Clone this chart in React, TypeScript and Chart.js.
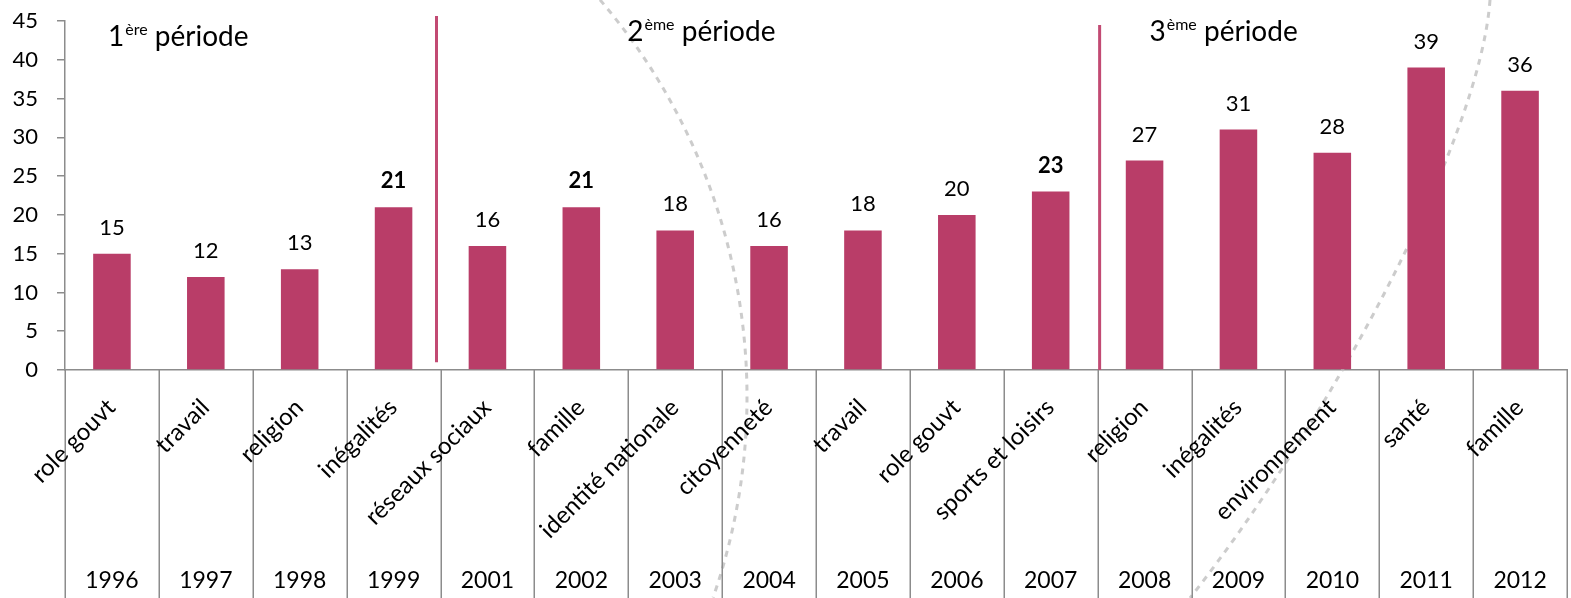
import { useEffect, useRef } from "react";
import { Chart, registerables } from "chart.js";

Chart.register(...registerables);

// ---- data ----
const years = ["1996", "1997", "1998", "1999", "2001", "2002", "2003", "2004", "2005", "2006", "2007", "2008", "2009", "2010", "2011", "2012"];
const topics = ["role gouvt", "travail", "religion", "inégalités", "réseaux sociaux", "famille", "identité nationale", "citoyenneté", "travail", "role gouvt", "sports et loisirs", "religion", "inégalités", "environnement", "santé", "famille"];
const values = [15, 12, 13, 21, 16, 21, 18, 16, 18, 20, 23, 27, 31, 28, 39, 36];
const boldIndexes = [3, 5, 10];
const yTickValues = [0, 5, 10, 15, 20, 25, 30, 35, 40, 45];
const periodNumbers = ["1", "2", "3"];
const periodSuffixes = ["ère", "ème", "ème"];
const periodWord = " période";
const periodLastIndex = [3, 10]; // last category of period 1 and period 2

const FONT = "Lato, 'Open Sans', sans-serif";
const BAR = "#B93D68";
const LINE = "#C24A73";
const AXIS = "#8C8C8C";

const overlay = {
  id: "overlay",
  beforeDatasetsDraw(chart: any) {
    const { ctx } = chart;
    ctx.save();
    ctx.strokeStyle = "rgba(195,195,195,0.85)";
    ctx.lineWidth = 3;
    ctx.setLineDash([6, 6]);
    // decorative background arcs
    ctx.beginPath();
    ctx.arc(137, 397, 610, -0.709, 0.335);
    ctx.stroke();
    ctx.beginPath();
    ctx.moveTo(1490, 0);
    ctx.bezierCurveTo(1480, 140, 1330, 420, 1190, 598);
    ctx.stroke();
    ctx.restore();
  },
  afterDatasetsDraw(chart: any) {
    const { ctx, chartArea } = chart;
    const xs = chart.scales.x;
    const ys = chart.scales.y;
    const n = years.length;
    const cx = (i: number) => xs.getPixelForValue(i);
    const boundary = (i: number) =>
      i < 0 ? chartArea.left : i >= n - 1 ? chartArea.right : (cx(i) + cx(i + 1)) / 2;
    ctx.save();

    // data labels
    const meta = chart.getDatasetMeta(0);
    ctx.fillStyle = "#000";
    ctx.textAlign = "center";
    ctx.textBaseline = "middle";
    meta.data.forEach((bar: any, i: number) => {
      ctx.font = (boldIndexes.includes(i) ? "bold " : "") + "22px " + FONT;
      ctx.fillText(String(values[i]), bar.x, bar.y - 26);
    });

    // period separators
    ctx.strokeStyle = LINE;
    ctx.lineWidth = 3;
    ctx.beginPath();
    const x1 = boundary(periodLastIndex[0]) - 4;
    ctx.moveTo(x1, ys.getPixelForValue(45) - 5);
    ctx.lineTo(x1, ys.getPixelForValue(1));
    const x2 = boundary(periodLastIndex[1]) + 2;
    ctx.moveTo(x2, ys.getPixelForValue(44.5));
    ctx.lineTo(x2, ys.getPixelForValue(0));
    ctx.stroke();

    // period labels
    const starts = [boundary(-1) + 43, boundary(5) - 1, boundary(11) - 42];
    const baselines = [46, 41, 41];
    ctx.textAlign = "left";
    ctx.textBaseline = "alphabetic";
    periodNumbers.forEach((num, k) => {
      let x = starts[k];
      const y = baselines[k];
      ctx.font = "28px " + FONT;
      ctx.fillText(num, x, y);
      x += ctx.measureText(num).width + 1;
      ctx.font = "16px " + FONT;
      ctx.fillText(periodSuffixes[k], x, y - 11);
      x += ctx.measureText(periodSuffixes[k]).width;
      ctx.font = "28px " + FONT;
      ctx.fillText(periodWord, x, y);
    });

    // x-axis separators
    const bottom = chart.height;
    ctx.strokeStyle = AXIS;
    ctx.lineWidth = 1.5;
    ctx.beginPath();
    for (let i = -1; i < n; i++) {
      const bx = Math.round(boundary(i)) + 0.25;
      ctx.moveTo(bx, chartArea.bottom);
      ctx.lineTo(bx, bottom);
    }
    ctx.stroke();

    // topic labels (rotated) and years
    ctx.fillStyle = "#000";
    for (let i = 0; i < n; i++) {
      ctx.save();
      ctx.translate(cx(i) - 9, chartArea.bottom + 25);
      ctx.rotate(-Math.PI / 4);
      ctx.font = "24px " + FONT;
      ctx.textAlign = "right";
      ctx.textBaseline = "top";
      ctx.fillText(topics[i], 0, 0);
      ctx.restore();
      ctx.font = "23px " + FONT;
      ctx.textAlign = "center";
      ctx.textBaseline = "middle";
      ctx.fillText(years[i], cx(i), 581);
    }
    ctx.restore();
  },
};

export default function App() {
  const ref = useRef<HTMLCanvasElement>(null);
  useEffect(() => {
    document.body.style.margin = "0";
    const canvas = ref.current!;
    const chart = new Chart(canvas, {
      type: "bar",
      data: {
        labels: years,
        datasets: [
          {
            data: values,
            backgroundColor: BAR,
            borderWidth: 0,
            categoryPercentage: 1,
            barPercentage: 0.4,
          },
        ],
      },
      options: {
        animation: false,
        responsive: false,
        layout: { padding: { left: 0, top: 21, right: 4, bottom: 0 } },
        plugins: { legend: { display: false }, tooltip: { enabled: false }, title: { display: false } },
        scales: {
          x: {
            type: "category",
            grid: { display: false },
            border: { display: true, color: AXIS, width: 1.5 },
            ticks: { display: false },
            afterFit: (s: any) => {
              s.height = 228;
            },
          },
          y: {
            min: 0,
            max: 45,
            afterBuildTicks: (s: any) => {
              s.ticks = yTickValues.map((v) => ({ value: v }));
            },
            grid: { drawOnChartArea: false, drawTicks: true, tickLength: 8, color: AXIS, lineWidth: 1.5 },
            border: { display: true, color: AXIS, width: 1.5 },
            ticks: { font: { family: FONT, size: 22 }, color: "#000", padding: 19 },
            afterFit: (s: any) => {
              s.width = 65;
              s.paddingTop = 0;
              s.paddingBottom = 0;
            },
          },
        },
      },
      plugins: [overlay],
    });
    return () => chart.destroy();
  }, []);
  return (
    <div style={{ position: "absolute", left: 0, top: 0, width: 1571, height: 598, background: "#fff" }}>
      <canvas ref={ref} width={1571} height={598} style={{ display: "block" }} />
    </div>
  );
}
